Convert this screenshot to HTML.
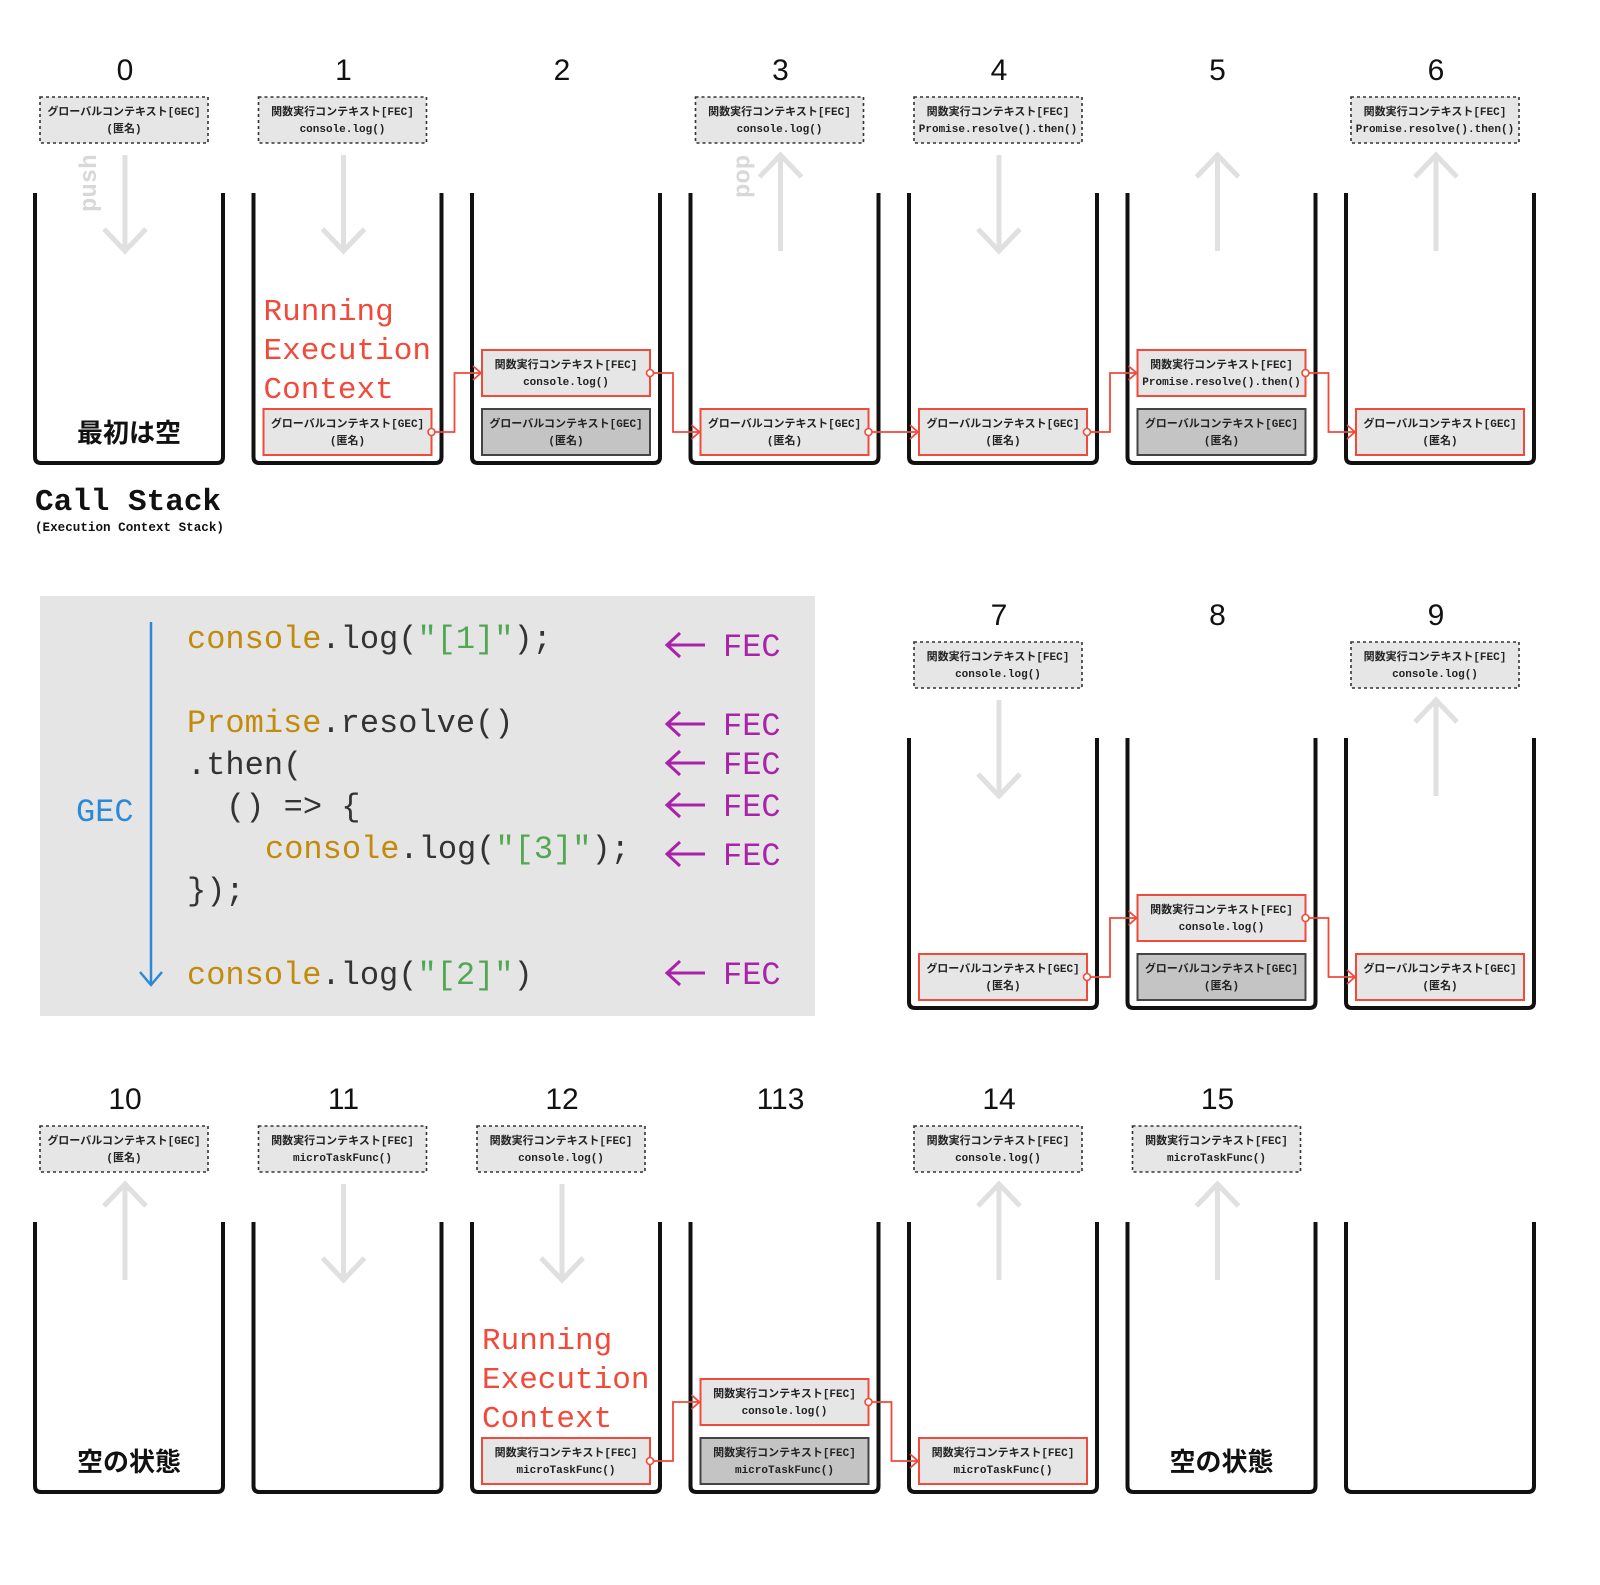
<!DOCTYPE html>
<html><head><meta charset="utf-8">
<style>
html,body{margin:0;padding:0;background:#fff;}
svg{display:block;}
.mono{font-family:"Liberation Mono","Noto Sans CJK JP",monospace;}
.jp{font-family:"Liberation Sans","Noto Sans CJK JP",sans-serif;}
</style></head>
<body>
<svg id="s" width="1600" height="1585" viewBox="0 0 1600 1585" xmlns="http://www.w3.org/2000/svg">
<g>
<rect x="40" y="596" width="775" height="420" fill="#e5e5e5"/>
<line x1="151" y1="622" x2="151" y2="983" stroke="#2b8ad8" stroke-width="2.5"/>
<path d="M140 972 L151 985 L162 972" fill="none" stroke="#2b8ad8" stroke-width="2.5"/>
<text x="76" y="821" class="mono" font-size="32" fill="#2b8ad8">GEC</text>
<g class="mono" font-size="32" fill="#333">
<text x="187" y="648"><tspan fill="#c28b0b">console</tspan>.log(<tspan fill="#52a852">"[1]"</tspan>);</text>
<text x="187" y="732"><tspan fill="#c28b0b">Promise</tspan>.resolve()</text>
<text x="187" y="774">.then(</text>
<text x="226" y="816">() =&gt; {</text>
<text x="265" y="858"><tspan fill="#c28b0b">console</tspan>.log(<tspan fill="#52a852">"[3]"</tspan>);</text>
<text x="187" y="900">});</text>
<text x="187" y="984"><tspan fill="#c28b0b">console</tspan>.log(<tspan fill="#52a852">"[2]"</tspan>)</text>
</g>
<g id="fecs"></g>
</g>
<g id="stacks"></g>
<text x="35" y="510" class="mono" font-size="31" font-weight="bold" fill="#111">Call Stack</text>
<text x="35" y="531" class="mono" font-size="12.6" font-weight="bold" fill="#111">(Execution Context Stack)</text>
</svg>
<script>
const NS="http://www.w3.org/2000/svg";
const RED="#f04a3a";
const fecY=[656,735,774,816,865,984];
const fecG=document.getElementById('fecs');
fecY.forEach(y=>{
  const p=document.createElementNS(NS,'path');
  p.setAttribute('d',`M705 ${y-11} L667 ${y-11} M680 ${y-23} L667 ${y-11} L680 ${y+1}`);
  p.setAttribute('fill','none');p.setAttribute('stroke','#aa22aa');p.setAttribute('stroke-width','3');
  
  
  fecG.appendChild(p);
  const t=document.createElementNS(NS,'text');
  t.setAttribute('x',723);t.setAttribute('y',y);t.setAttribute('class','mono');t.setAttribute('font-size','32');t.setAttribute('fill','#aa22aa');
  t.textContent='FEC';
  
  
  fecG.appendChild(t);
});

const G=['グローバルコンテキスト[GEC]','(匿名)'];
const FL=['関数実行コンテキスト[FEC]','console.log()'];
const FP=['関数実行コンテキスト[FEC]','Promise.resolve().then()'];
const FM=['関数実行コンテキスト[FEC]','microTaskFunc()'];
const steps=[
 ['0',0,0,G,'down',[],'最初は空','push'],
 ['1',1,0,FL,'down',[[G,1]],'run'],
 ['2',2,0,null,null,[[G,0],[FL,1]]],
 ['3',3,0,FL,'up',[[G,1]],null,'pop'],
 ['4',4,0,FP,'down',[[G,1]]],
 ['5',5,0,null,'up',[[G,0],[FP,1]]],
 ['6',6,0,FP,'up',[[G,1]]],
 ['7',4,1,FL,'down',[[G,1]]],
 ['8',5,1,null,null,[[G,0],[FL,1]]],
 ['9',6,1,FL,'up',[[G,1]]],
 ['10',0,2,G,'up',[],'空の状態'],
 ['11',1,2,FM,'down',[]],
 ['12',2,2,FL,'down',[[FM,1]],'run'],
 ['113',3,2,null,null,[[FM,0],[FL,1]]],
 ['14',4,2,FL,'up',[[FM,1]]],
 ['15',5,2,FM,'up',[],'空の状態'],
 ['',6,2,null,null,[]]
];
const links=[[1,2],[2,3],[3,4],[4,5],[5,6],[7,8],[8,9],[12,13],[13,14]];
const rowOff=[0,545,1029];
const colX=c=>33+c*218.5;
const root=document.getElementById('stacks');
function el(tag,attrs,parent){const e=document.createElementNS(NS,tag);for(const k in attrs)e.setAttribute(k,attrs[k]);parent.appendChild(e);return e;}
function box(g,x,y,lines,style){
  const fill=style==='gray'?'#c4c4c4':'#e6e6e6';
  const stroke=style==='dash'?'#333':(style==='gray'?'#444':RED);
  el('rect',{x:x,y:y,width:168,height:46,fill:fill,stroke:stroke,'stroke-width':style==='dash'?1.6:2,'stroke-dasharray':style==='dash'?'3 3':'none'},g);
  lines.forEach((l,i)=>{const t=el('text',{x:x+84,y:y+18+i*17,'text-anchor':'middle','font-size':'11','font-weight':'bold',fill:'#222',class:'mono'},g);t.textContent=l;});
}
const itemPos=[];
steps.forEach((s,i)=>{
  const [lab,c,r,top,arr,items,note,side]=s;
  const L=colX(c),o=rowOff[r],cx=L+92;
  const g=el('g',{},root);
  
  
  if(lab){const t=el('text',{x:cx,y:80+o,'text-anchor':'middle','font-size':'30',fill:'#111',class:'jp'},g);t.textContent=lab;}
  if(top){box(g,L+7,97+o,top,'dash');}
  if(arr){
    el('line',{x1:cx,y1:155+o,x2:cx,y2:251+o,stroke:'#e0e0e0','stroke-width':5},g);
    const d=arr==='down'?`M${cx-21} ${229+o} L${cx} ${251+o} L${cx+21} ${229+o}`:`M${cx-21} ${177+o} L${cx} ${155+o} L${cx+21} ${177+o}`;
    el('path',{d:d,fill:'none',stroke:'#e0e0e0','stroke-width':5},g);
  }
  if(side){
    const x=side==='push'?L+63:L+61;
    const t=el('text',{transform:`translate(${x},${(side==='push'?212:198)+o}) rotate(-90)`,'font-size':'24','font-weight':'bold',fill:'#d8d8d8',class:'mono'},g);t.textContent=side;}
  el('path',{d:`M${L+2} ${193+o} L${L+2} ${457+o} Q${L+2} ${463+o} ${L+8} ${463+o} L${L+184} ${463+o} Q${L+190} ${463+o} ${L+190} ${457+o} L${L+190} ${193+o}`,fill:'none',stroke:'#111','stroke-width':4},g);
  const pos=[];
  items.forEach((it,k)=>{const y=409+o-k*59;box(g,L+12,y,it[0],it[1]?'red':'gray');pos.push([L+12,y]);});
  itemPos.push(pos);
  if(note==='run'){['Running','Execution','Context'].forEach((w,k)=>{const t=el('text',{x:L+12,y:320+o+k*39,'font-size':'31',fill:RED,class:'mono'},g);t.textContent=w;});}
  else if(note){const t=el('text',{x:cx+4,y:442+o,'text-anchor':'middle','font-size':'26','font-weight':'bold',fill:'#111',class:'jp'},g);t.textContent=note;}
});
links.forEach(([a,b])=>{
  const pa=itemPos[a][itemPos[a].length-1], pb=itemPos[b][itemPos[b].length-1];
  const x1=pa[0]+168,y1=pa[1]+23,x2=pb[0],y2=pb[1]+23,mx=x1+23;
  const g=el('g',{},root);
  
  
  el('path',{d:`M${x1} ${y1} L${mx} ${y1} L${mx} ${y2} L${x2-1} ${y2} M${x2-9} ${y2-7} L${x2-1} ${y2} L${x2-9} ${y2+7}`,fill:'none',stroke:RED,'stroke-width':1.8},g);
  el('circle',{cx:x1,cy:y1,r:3.5,fill:'#fff',stroke:RED,'stroke-width':1.6},g);
});
</script>
</body></html>
